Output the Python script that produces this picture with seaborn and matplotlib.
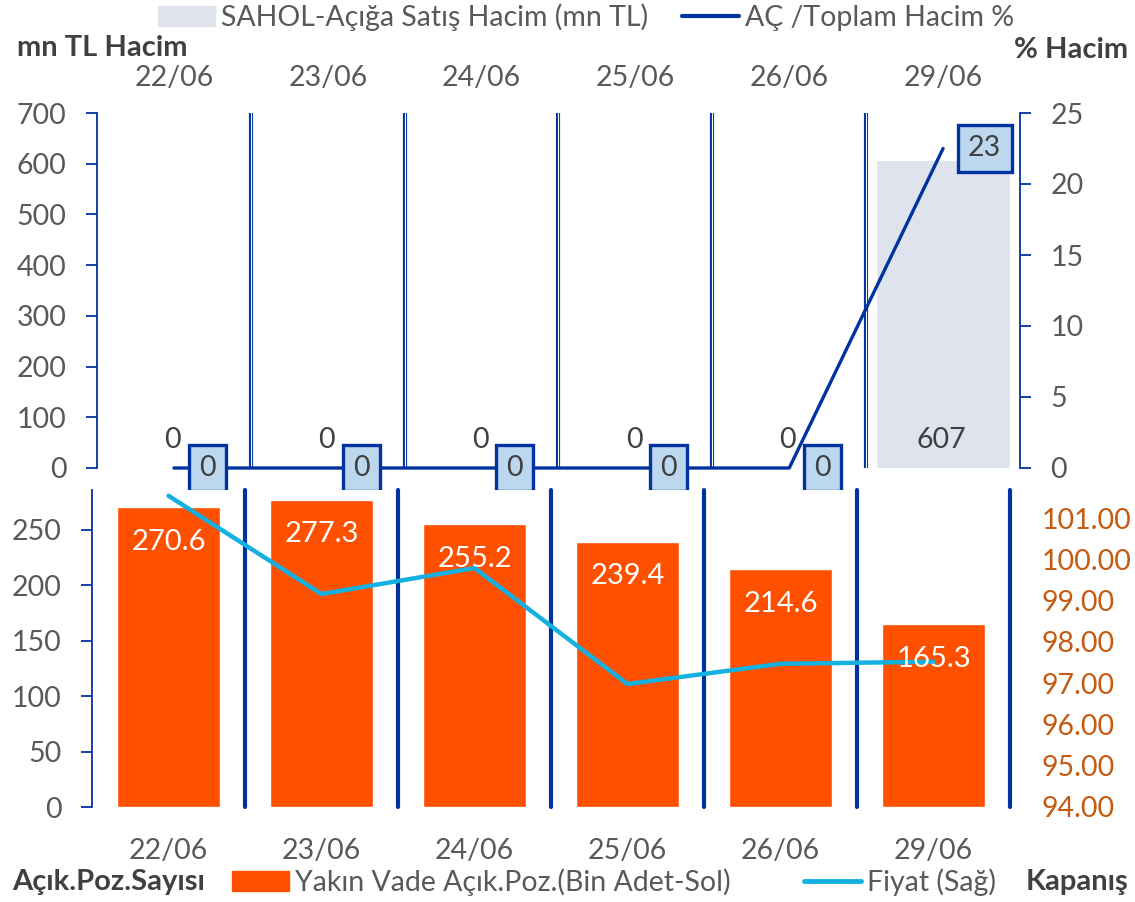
import numpy as np
import matplotlib.pyplot as plt
import seaborn as sns
from matplotlib.patches import Patch
from matplotlib.lines import Line2D

# data
dates = ["22/06", "23/06", "24/06", "25/06", "26/06", "29/06"]
short_vol = [0, 0, 0, 0, 0, 607]            # SAHOL short sale volume, mn TL
short_pct = [0, 0, 0, 0, 0, 22.5]           # short / total volume %
short_pct_lbl = ["0", "0", "0", "0", "0", "23"]
open_pos = [270.6, 277.3, 255.2, 239.4, 214.6, 165.3]   # open positions (thousand)
price = [101.54, 99.16, 99.79, 96.98, 97.47, 97.52]     # closing price

NAVY = "#0033A0"
GREY = "#595959"
DARK = "#404040"
LIGHT = "#DFE3EE"
BOXFILL = "#BDD7EE"
ORANGE = "#FF5000"
CYAN = "#14B1E0"
BROWN = "#C55A11"

sns.set_style("white")
plt.rcParams['font.family'] = ['Lato', 'DejaVu Sans']
FS = 20.5

W, H = 1135, 902
fig = plt.figure(figsize=(W / 100, H / 100), dpi=100)


def rect(l, t, r, b):
    return [l / W, 1 - b / H, (r - l) / W, (b - t) / H]


ax1 = fig.add_axes(rect(97, 113, 1020, 468))
ax2 = ax1.twinx()
ax3 = fig.add_axes(rect(92, 490, 1010, 807))
ax4 = ax3.twinx()

# ---- top panel: short sale volume + share of total
sns.barplot(x=dates, y=short_vol, color=LIGHT, saturation=1, width=0.87, ax=ax1)
for b in np.arange(0.5, 5, 1):
    ax1.axvline(b, color=NAVY, lw=3.0, zorder=1)
    ax1.axvline(b, color="white", lw=0.8, zorder=1)
ax1.set_xlim(-0.5, 5.5)
ax1.set_ylim(0, 700)
ax1.set_yticks(range(0, 701, 100))
ax1.xaxis.tick_top()
ax1.tick_params(axis="x", length=0, labelsize=FS, labelcolor=GREY, pad=16)
ax1.tick_params(axis="y", length=8, width=1.3, color=NAVY, labelsize=FS,
                labelcolor=GREY, pad=14)
for s in ["top", "bottom", "right"]:
    ax1.spines[s].set_visible(False)
ax1.spines["left"].set_color(NAVY)
ax1.spines["left"].set_linewidth(1.3)
ax1.set_xlabel("")
ax1.set_ylabel("")

sns.lineplot(x=range(6), y=short_pct, color=NAVY, lw=2.4, ax=ax2, clip_on=False)
ax2.set_xlim(-0.5, 5.5)
ax2.set_ylim(0, 25)
ax2.set_yticks(range(0, 26, 5))
ax2.tick_params(axis="y", length=8, width=1.3, color=NAVY, labelsize=FS,
                labelcolor=GREY, pad=14)
for s in ["top", "bottom", "left"]:
    ax2.spines[s].set_visible(False)
ax2.spines["right"].set_color(NAVY)
ax2.spines["right"].set_linewidth(1.3)
ax2.set_ylabel("")

for i, v in enumerate(short_vol):
    ax2.annotate(f"{v}", xy=(i, 0), xycoords=ax1.transData, xytext=(-1, 20),
                 textcoords="offset points", ha="center", va="center",
                 fontsize=FS, color=DARK)
for i, v in enumerate(short_pct):
    ax2.annotate(short_pct_lbl[i], xy=(i, v), xytext=(18, 0),
                 textcoords="offset points", ha="left", va="center",
                 fontsize=FS, color=DARK,
                 bbox=dict(boxstyle="square,pad=0.36", fc=BOXFILL, ec=NAVY, lw=2.4))

# ---- bottom panel: open positions + price
sns.barplot(x=dates, y=open_pos, color=ORANGE, saturation=1, width=0.67, ax=ax3)
for b in np.arange(0.5, 6, 1):
    ax3.axvline(b, color=NAVY, lw=3, clip_on=False, zorder=1)
ax3.set_xlim(-0.5, 5.5)
ax3.set_ylim(0, 286)
ax3.set_yticks(range(0, 251, 50))
ax3.tick_params(axis="x", length=0, labelsize=FS, labelcolor=GREY, pad=22)
ax3.tick_params(axis="y", length=8, width=1.3, color=NAVY, labelsize=FS,
                labelcolor=GREY, pad=14)
for s in ["top", "bottom", "right"]:
    ax3.spines[s].set_visible(False)
ax3.spines["left"].set_color(NAVY)
ax3.spines["left"].set_linewidth(1.3)
ax3.set_xlabel("")
ax3.set_ylabel("")

sns.lineplot(x=range(6), y=price, color=CYAN, lw=3.2, ax=ax4)
ax4.set_xlim(-0.5, 5.5)
ax4.set_ylim(94, 101.68)
ax4.set_yticks(range(94, 102))
ax4.set_yticklabels([f"{t:.2f}" for t in range(94, 102)])
ax4.tick_params(axis="y", length=0, labelsize=FS, labelcolor=BROWN, pad=23)
for s in ax4.spines.values():
    s.set_visible(False)
ax4.set_ylabel("")

for i, v in enumerate(open_pos):
    ax4.annotate(f"{v:.1f}", xy=(i, v), xycoords=ax3.transData, xytext=(0, -25),
                 textcoords="offset points", ha="center", va="center",
                 fontsize=FS + 0.5, color="white")

# ---- titles and legends
BFS = 21
fig.text(17 / W, 1 - 48 / H, "mn TL Hacim", fontsize=BFS, fontweight="bold",
         color=DARK, va="center", ha="left")
fig.text(1128 / W, 1 - 50 / H, "% Hacim", fontsize=BFS, fontweight="bold",
         color=DARK, va="center", ha="right")
fig.text(12 / W, 1 - 882 / H, "Açık.Poz.Sayısı", fontsize=BFS, fontweight="bold",
         color=DARK, va="center", ha="left")
fig.text(1128 / W, 1 - 882 / H, "Kapanış", fontsize=BFS, fontweight="bold",
         color=DARK, va="center", ha="right")

fig.legend(handles=[Patch(color=LIGHT), Line2D([], [], color=NAVY, lw=3)],
           labels=["SAHOL-Açığa Satış Hacim (mn TL)", "AÇ /Toplam Hacim %"],
           loc="center", bbox_to_anchor=(586 / W, 1 - 17 / H), ncol=2,
           frameon=False, fontsize=FS, labelcolor=GREY, handlelength=2.0,
           handletextpad=0.2, columnspacing=1.2)
fig.legend(handles=[Patch(color=ORANGE), Line2D([], [], color=CYAN, lw=3.5)],
           labels=["Yakın Vade Açık.Poz.(Bin Adet-Sol)", "Fiyat (Sağ)"],
           loc="center", bbox_to_anchor=(614 / W, 1 - 882 / H), ncol=2,
           frameon=False, fontsize=FS, labelcolor=GREY, handlelength=2.0,
           handletextpad=0.2, columnspacing=2.6)

fig.savefig("out.png", dpi=100)
